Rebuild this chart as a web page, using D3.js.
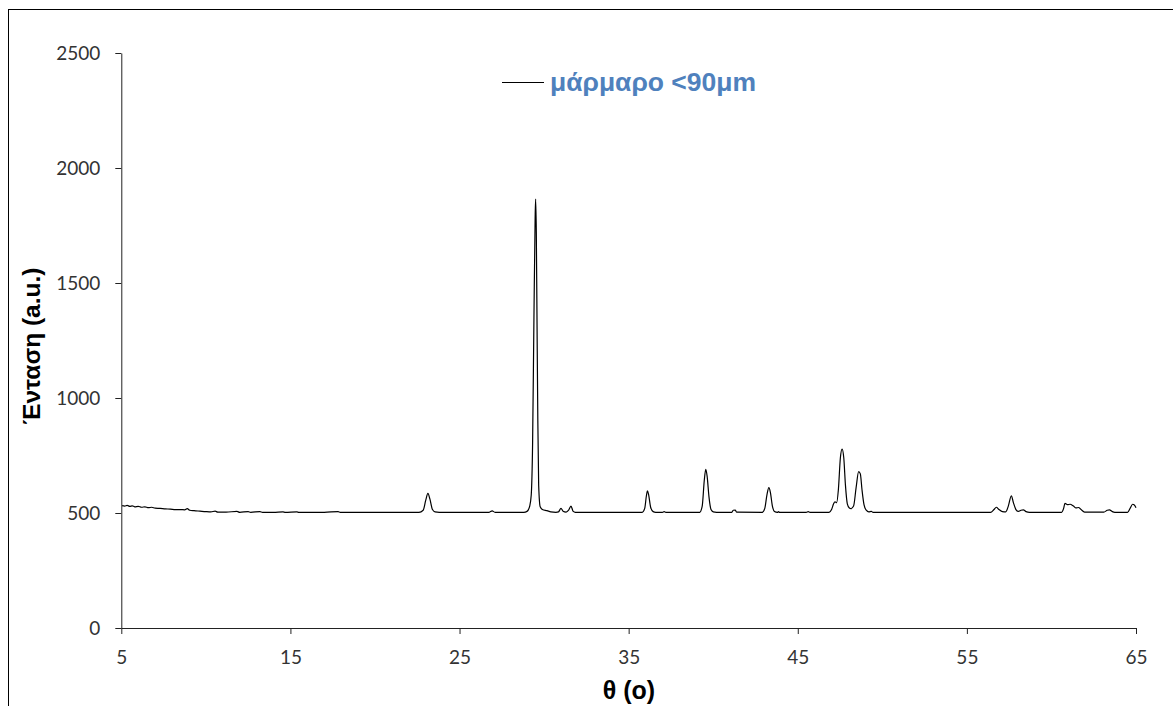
<!DOCTYPE html>
<html>
<head>
<meta charset="utf-8">
<script src="https://cdn.jsdelivr.net/npm/d3@7"></script>
<style>
  html, body { margin: 0; padding: 0; background: #fff; }
  svg { display: block; }
</style>
</head>
<body>
<svg id="chart" width="1173" height="706"></svg>
<script>
// X-ray diffraction pattern of marble powder (<90 μm)
const theta = [
  5.05, 5.2, 5.35, 5.5, 5.65, 5.8, 6.0, 6.2, 6.4, 6.6, 6.8, 7.0, 7.3, 7.6, 7.9, 8.2, 8.5, 8.75, 8.9, 9.05,
  9.3, 9.65, 10.0, 10.3, 10.55, 10.7, 11.2, 11.84, 12.0, 12.5, 12.65, 13.2, 13.35, 14.0, 14.56, 14.7, 15.38, 15.5,
  17.0, 17.82, 17.95, 20.0, 22.6, 22.85, 23.0, 23.13, 23.25, 23.4, 23.55, 23.8, 26.75, 26.93, 27.1,
  28.8, 28.99, 29.15, 29.24, 29.32, 29.4, 29.47, 29.5, 29.54, 29.58, 29.63, 29.68, 29.77, 29.9, 30.17, 30.4,
  30.7, 30.85, 31.0, 31.12, 31.3, 31.45, 31.59, 31.72, 31.85, 35.8, 35.95, 36.05, 36.11, 36.18, 36.3, 36.45,
  36.6, 37.0, 37.1, 37.2, 39.2, 39.35, 39.47, 39.56, 39.64, 39.75, 39.87, 40.0, 40.2, 41.1, 41.18, 41.3, 41.38,
  42.9, 43.05, 43.18, 43.29, 43.38, 43.5, 43.62, 43.8, 43.86, 43.92, 45.5, 45.62, 45.72, 46.85, 47.0, 47.12, 47.2,
  47.3, 47.4, 47.52, 47.62, 47.72, 47.82, 47.93, 48.05, 48.15, 48.3, 48.45, 48.6, 48.7, 48.8, 48.92, 49.05,
  49.2, 49.35, 49.45, 56.4, 56.6, 56.74, 56.9, 57.1, 57.3, 57.45, 57.63, 57.75, 57.9, 58.05, 58.2, 58.34,
  58.5, 58.7, 60.6, 60.72, 60.8, 60.95, 61.1, 61.3, 61.45, 61.6, 61.75, 61.96, 63.1, 63.3, 63.43, 63.6,
  63.75, 64.5, 64.65, 64.8, 64.9, 65.0
];
const intensity = [
  532, 530, 533, 529, 531, 527, 529, 525, 527, 523, 525, 521, 520, 518, 517, 515, 515, 514, 519, 512,
  510, 508, 506, 505, 508, 504, 504, 507, 503, 506, 503, 506, 503, 503, 505, 503, 505, 503,
  503, 506, 503, 503, 503, 512, 555, 585, 560, 515, 505, 503, 503, 509, 503,
  503, 507, 530, 578, 800, 1350, 1780, 1865, 1720, 1350, 900, 620, 527, 515, 510, 505,
  503, 505, 520, 508, 504, 512, 530, 507, 503, 503, 520, 575, 596, 580, 525, 506,
  503, 503, 506, 503, 503, 530, 640, 690, 660, 570, 515, 505, 503, 503, 512, 513, 504,
  503, 520, 580, 610, 590, 530, 507, 503, 506, 503, 503, 506, 503, 503, 515, 540, 549,
  545, 600, 740, 778, 740, 620, 540, 522, 519, 530, 610, 680, 670, 600, 535, 512,
  505, 507, 503, 503, 515, 525, 515, 506, 505, 530, 575, 545, 515, 507, 512, 514,
  506, 503, 503, 520, 542, 536, 538, 530, 522, 524, 515, 504, 504, 512, 514, 506,
  503, 503, 520, 538, 535, 523
];
const xTicks = [5, 15, 25, 35, 45, 55, 65];
const yTicks = [0, 500, 1000, 1500, 2000, 2500];
const seriesName = "μάρμαρο <90μm";
const xTitle = "θ (o)";
const yTitle = "Ένταση (a.u.)";

const svg = d3.select("#chart");

// outer chart frame
svg.append("rect")
  .attr("x", 8.5).attr("y", 9.5)
  .attr("width", 1200).attr("height", 800)
  .attr("fill", "none").attr("stroke", "#000").attr("stroke-width", 1);

const x = d3.scaleLinear().domain([5, 65]).range([121.3, 1136]);
const y = d3.scaleLinear().domain([0, 2500]).range([628, 53]);

const tickFont = "Lato, 'Open Sans', sans-serif";
const fmt = d3.format("d");

// x axis
const gx = svg.append("g").attr("transform", `translate(0,${y(0)})`)
  .call(d3.axisBottom(x).tickValues(xTicks).tickFormat(fmt).tickSize(6).tickPadding(17).tickSizeOuter(0));
gx.select(".domain").attr("stroke", "#222");
gx.selectAll(".tick line").attr("stroke", "#222");
gx.selectAll(".tick text").attr("font-family", tickFont).attr("font-size", 19).attr("fill", "#333");

// y axis
const gy = svg.append("g").attr("transform", `translate(${x(5)},0)`)
  .call(d3.axisLeft(y).tickValues(yTicks).tickFormat(fmt).tickSize(6).tickPadding(15).tickSizeOuter(0));
gy.select(".domain").attr("stroke", "#222");
gy.selectAll(".tick line").attr("stroke", "#222");
gy.selectAll(".tick text").attr("font-family", tickFont).attr("font-size", 19).attr("fill", "#333");

// diffraction trace
const pts = theta.map((t, i) => [t, intensity[i]]);
svg.append("path")
  .datum(pts)
  .attr("fill", "none")
  .attr("stroke", "#000")
  .attr("stroke-width", 1.2)
  .attr("stroke-linejoin", "round")
  .attr("d", d3.line().x(d => x(d[0])).y(d => y(d[1])).curve(d3.curveMonotoneX));

// legend
svg.append("line")
  .attr("x1", 502).attr("x2", 544).attr("y1", 82.5).attr("y2", 82.5)
  .attr("stroke", "#000").attr("stroke-width", 1.2);
svg.append("text")
  .attr("x", 550).attr("y", 91)
  .attr("font-family", "'Liberation Sans', Arial, sans-serif")
  .attr("font-weight", "bold").attr("font-size", 26.5)
  .attr("fill", "#4f81bd")
  .text(seriesName);

// axis titles
svg.append("text")
  .attr("x", 629).attr("y", 699)
  .attr("text-anchor", "middle")
  .attr("font-family", "'Liberation Sans', Arial, sans-serif")
  .attr("font-weight", "bold").attr("font-size", 25)
  .attr("fill", "#000")
  .text(xTitle);

svg.append("text")
  .attr("transform", "translate(40,346) rotate(-90)")
  .attr("text-anchor", "middle")
  .attr("font-family", "'Liberation Sans', Arial, sans-serif")
  .attr("font-weight", "bold").attr("font-size", 24.5)
  .attr("fill", "#000")
  .text(yTitle);
</script>
</body>
</html>
